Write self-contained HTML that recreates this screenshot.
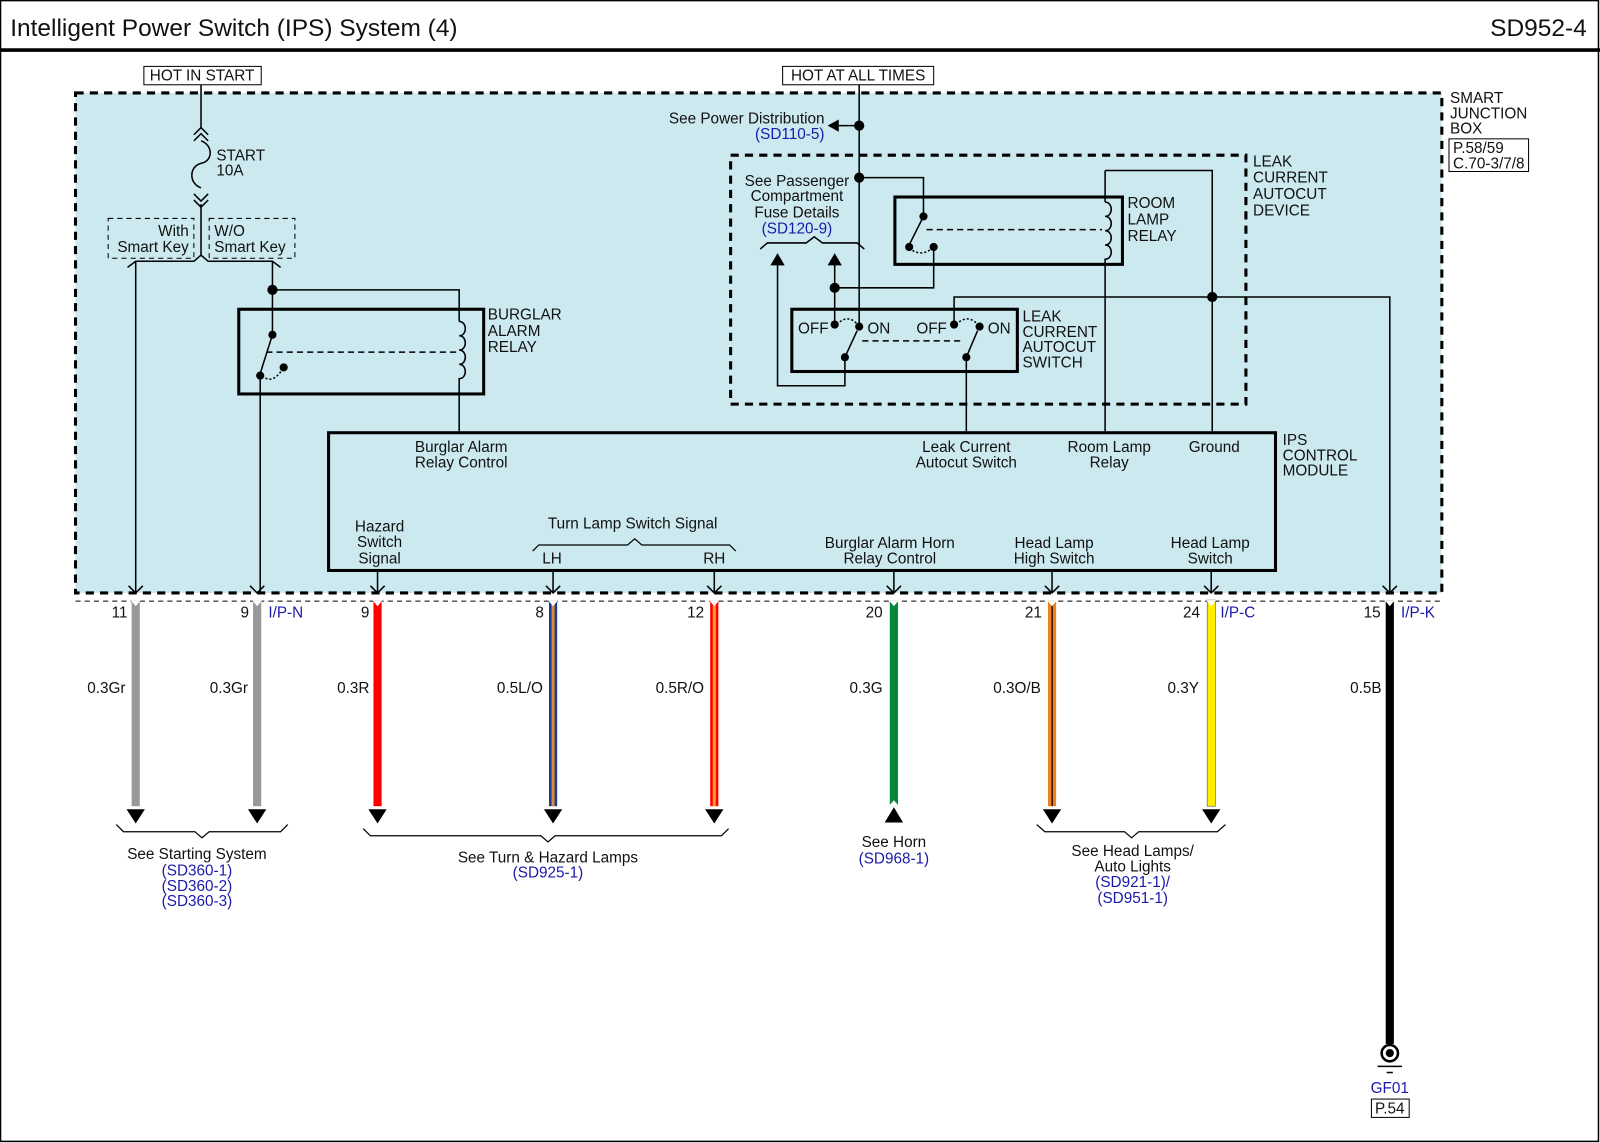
<!DOCTYPE html>
<html><head><meta charset="utf-8"><style>
html,body{margin:0;padding:0;background:#fff;}
svg{display:block;}
text{font-family:"Liberation Sans",Arial,sans-serif;font-size:15px;fill:#111;}
.b{fill:#1a1aa8;}
.m{text-anchor:middle;}
.e{text-anchor:end;}
</style></head><body>
<svg width="1600" height="1143" viewBox="0 0 1568 1120" xmlns="http://www.w3.org/2000/svg">
<rect x="0.5" y="0.5" width="1566" height="1118" fill="#fff" stroke="#000" stroke-width="1.5"/>
<line x1="0" y1="49" x2="1568" y2="49" stroke="#000" stroke-width="3.5"/>
<text x="10" y="35" style="font-size:24px">Intelligent Power Switch (IPS) System (4)</text>
<text x="1555" y="35" class="e" style="font-size:24px">SD952-4</text>

<rect x="74" y="91" width="1339" height="490" fill="#cce9f0" stroke="#000" stroke-width="3" stroke-dasharray="8,6"/>
<line x1="74" y1="589" x2="1413" y2="589" stroke="#000" stroke-width="1" stroke-dasharray="5,4"/>
<text x="1421" y="101">SMART</text><text x="1421" y="116">JUNCTION</text><text x="1421" y="131">BOX</text>
<rect x="1420" y="136" width="78" height="32" fill="#fff" stroke="#000"/>
<text x="1424" y="150">P.58/59</text><text x="1424" y="165">C.70-3/7/8</text>

<g fill="none" stroke="#000" stroke-width="1.5">
<path d="M197 83V125M197 200V250"/>
<path d="M190 132l7-7 7 7M190 138l7-7 7 7M190 190l7 7 7-7M190 196l7 7 7-7"/>
<path d="M197 138c12 4 12 20 0 22c-12 3-12 20 0 24"/>
<path d="M125 262l8-6h57l7-6 7 6h63l8 6"/>
<path d="M133 256V580M267 256V324M267 284H450V315M255 368V580"/>
<path d="M267 328L255 366"/>
<path d="M450 315c8 0 8 14 0 14c8 0 8 14 0 14c8 0 8 14 0 14c8 0 8 14 0 14V424"/>
<path d="M261 345H447" stroke-dasharray="6,4"/>
<path d="M257 368q10 10 21 -8" stroke-dasharray="2,2"/>
<path d="M842 83V318M842 123H822M842 174H905V210"/>
<path d="M905 212L891 240M915 242V282H818M818 258V316M762 258V378H828V352"/>
<path d="M828 350L840 324M947 350L958 324"/>
<path d="M935 318V291H1362V580M947 350V424"/>
<path d="M1083 167H1188V424M1083 167V198M1083 198c8 0 8 14 0 14c8 0 8 14 0 14c8 0 8 14 0 14c8 0 8 14 0 14V424"/>
<path d="M908 225H1080M845 334H942" stroke-dasharray="6,4"/>
<path d="M891 243q12 10 24 -1M820 318q12 -12 22 2M937 318q12 -12 23 2" stroke-dasharray="2,2"/>
<path d="M745 244l7-6h38l8-6 8 6h34l7 6"/>
</g>
<rect x="141" y="65" width="115" height="18" fill="#fff" stroke="#000"/>
<text x="198" y="79" class="m">HOT IN START</text>
<rect x="767" y="65" width="148" height="18" fill="#fff" stroke="#000"/>
<text x="841" y="79" class="m">HOT AT ALL TIMES</text>
<text x="212" y="157">START</text><text x="212" y="172">10A</text>
<rect x="106" y="214" width="84" height="39" fill="none" stroke="#000" stroke-dasharray="5,4"/>
<rect x="205" y="214" width="84" height="39" fill="none" stroke="#000" stroke-dasharray="5,4"/>
<text x="185" y="231" class="e">With</text><text x="185" y="247" class="e">Smart Key</text>
<text x="210" y="231">W/O</text><text x="210" y="247">Smart Key</text>

<rect x="234" y="303" width="240" height="83" fill="none" stroke="#000" stroke-width="3"/>
<text x="478" y="313">BURGLAR</text><text x="478" y="329">ALARM</text><text x="478" y="345">RELAY</text>

<text x="808" y="121" class="e">See Power Distribution</text>
<text x="808" y="136" class="e b">(SD110-5)</text>
<polygon points="811,123 822,117 822,129" fill="#000"/>

<rect x="716" y="152" width="505" height="244" fill="none" stroke="#000" stroke-width="3" stroke-dasharray="8,6"/>
<text x="1228" y="163">LEAK</text><text x="1228" y="179">CURRENT</text><text x="1228" y="195">AUTOCUT</text><text x="1228" y="211">DEVICE</text>
<text x="781" y="182" class="m">See Passenger</text><text x="781" y="197" class="m">Compartment</text><text x="781" y="213" class="m">Fuse Details</text><text x="781" y="229" class="m b">(SD120-9)</text>
<polygon points="762,248 755,260 769,260" fill="#000"/>
<polygon points="818,248 811,260 825,260" fill="#000"/>

<rect x="877" y="193" width="223" height="66" fill="none" stroke="#000" stroke-width="3"/>
<text x="1105" y="204">ROOM</text><text x="1105" y="220">LAMP</text><text x="1105" y="236">RELAY</text>
<rect x="776" y="303" width="221" height="61" fill="none" stroke="#000" stroke-width="3"/>
<text x="782" y="327">OFF</text><text x="850" y="327">ON</text><text x="898" y="327">OFF</text><text x="968" y="327">ON</text>
<text x="1002" y="315">LEAK</text><text x="1002" y="330">CURRENT</text><text x="1002" y="345">AUTOCUT</text><text x="1002" y="360">SWITCH</text>

<g fill="#000">
<circle cx="267" cy="284" r="5"/><circle cx="267" cy="328" r="4"/><circle cx="255" cy="368" r="4"/><circle cx="278" cy="360" r="4"/>
<circle cx="842" cy="123" r="5"/><circle cx="842" cy="174" r="5"/><circle cx="818" cy="282" r="5"/><circle cx="1188" cy="291" r="5"/>
<circle cx="905" cy="212" r="4"/><circle cx="891" cy="242" r="4"/><circle cx="915" cy="242" r="4"/>
<circle cx="818" cy="318" r="4"/><circle cx="842" cy="320" r="4"/><circle cx="828" cy="350" r="4"/>
<circle cx="935" cy="318" r="4"/><circle cx="960" cy="320" r="4"/><circle cx="947" cy="350" r="4"/>
</g>

<rect x="322" y="424" width="928" height="135" fill="none" stroke="#000" stroke-width="3"/>
<text x="1257" y="436">IPS</text><text x="1257" y="451">CONTROL</text><text x="1257" y="466">MODULE</text>
<text x="452" y="443" class="m">Burglar Alarm</text><text x="452" y="458" class="m">Relay Control</text>
<text x="947" y="443" class="m">Leak Current</text><text x="947" y="458" class="m">Autocut Switch</text>
<text x="1087" y="443" class="m">Room Lamp</text><text x="1087" y="458" class="m">Relay</text>
<text x="1190" y="443" class="m">Ground</text>
<text x="372" y="521" class="m">Hazard</text><text x="372" y="536" class="m">Switch</text><text x="372" y="552" class="m">Signal</text>
<text x="620" y="518" class="m">Turn Lamp Switch Signal</text>
<path d="M522 540l6-6h87l7-6 7 6h86l6 6" fill="none" stroke="#000" stroke-width="1.2"/>
<text x="541" y="552" class="m">LH</text><text x="700" y="552" class="m">RH</text>
<text x="872" y="537" class="m">Burglar Alarm Horn</text><text x="872" y="552" class="m">Relay Control</text>
<text x="1033" y="537" class="m">Head Lamp</text><text x="1033" y="552" class="m">High Switch</text>
<text x="1186" y="537" class="m">Head Lamp</text><text x="1186" y="552" class="m">Switch</text>

<g fill="none" stroke="#000" stroke-width="1.5">
<path d="M370 559V580M542 559V580M700 559V580M876 559V580M1031 559V580M1187 559V580"/>
<path d="M126 574l7 7 7-7M245 574l7 7 7-7M363 574l7 7 7-7M535 574l7 7 7-7M693 574l7 7 7-7M869 574l7 7 7-7M1024 574l7 7 7-7M1180 574l7 7 7-7M1355 574l7 7 7-7"/>
</g>

<g>
<rect x="129" y="588" width="8" height="202" fill="#999"/>
<rect x="248" y="588" width="8" height="202" fill="#999"/>
<rect x="366" y="588" width="8" height="202" fill="#f00"/>
<rect x="538" y="588" width="8" height="202" fill="#1a3a8c"/><rect x="540.5" y="588" width="3" height="202" fill="#d98a3a"/>
<rect x="696" y="588" width="8" height="202" fill="#f00"/><rect x="698.5" y="588" width="3" height="202" fill="#ff9a2a"/>
<rect x="872" y="588" width="8" height="202" fill="#00873a"/>
<rect x="1027" y="588" width="8" height="202" fill="#f08020"/><rect x="1030.5" y="588" width="1.2" height="202" fill="#000"/>
<rect x="1183" y="588" width="8" height="202" fill="#ffee00" stroke="#333" stroke-width="0.5"/>
<rect x="1358" y="588" width="8" height="435" fill="#000"/>
</g>
<g fill="#fff"><path d="M128 588l5 6 5-6zM247 588l5 6 5-6zM365 588l5 6 5-6zM537 588l5 6 5-6zM695 588l5 6 5-6zM871 588l5 6 5-6zM1026 588l5 6 5-6zM1182 588l5 6 5-6zM1357 588l5 6 5-6z"/>
<path d="M871 790l5-6 5 6z"/></g>
<g fill="#000">
<polygon points="124,793 142,793 133,807"/><polygon points="243,793 261,793 252,807"/>
<polygon points="361,793 379,793 370,807"/><polygon points="533,793 551,793 542,807"/>
<polygon points="691,793 709,793 700,807"/><polygon points="867,806 885,806 876,791"/>
<polygon points="1022,793 1040,793 1031,807"/><polygon points="1178,793 1196,793 1187,807"/>
</g>

<text x="125" y="605" class="e">11</text><text x="244" y="605" class="e">9</text><text x="263" y="605" class="b">I/P-N</text>
<text x="362" y="605" class="e">9</text><text x="533" y="605" class="e">8</text><text x="690" y="605" class="e">12</text>
<text x="865" y="605" class="e">20</text><text x="1021" y="605" class="e">21</text><text x="1176" y="605" class="e">24</text><text x="1196" y="605" class="b">I/P-C</text>
<text x="1353" y="605" class="e">15</text><text x="1373" y="605" class="b">I/P-K</text>

<text x="123" y="679" class="e">0.3Gr</text><text x="243" y="679" class="e">0.3Gr</text><text x="362" y="679" class="e">0.3R</text>
<text x="532" y="679" class="e">0.5L/O</text><text x="690" y="679" class="e">0.5R/O</text><text x="865" y="679" class="e">0.3G</text>
<text x="1020" y="679" class="e">0.3O/B</text><text x="1175" y="679" class="e">0.3Y</text><text x="1354" y="679" class="e">0.5B</text>

<g fill="none" stroke="#000" stroke-width="1.2">
<path d="M114 808l7 7h70l7 6 7-6h70l7-7"/>
<path d="M356 812l7 7h167l7 6 7-6h163l7-7"/>
<path d="M1016 808l8 7h78l7 6 7-6h77l8-7"/>
</g>
<text x="193" y="842" class="m">See Starting System</text>
<text x="193" y="858" class="m b">(SD360-1)</text><text x="193" y="873" class="m b">(SD360-2)</text><text x="193" y="888" class="m b">(SD360-3)</text>
<text x="537" y="845" class="m">See Turn &amp; Hazard Lamps</text><text x="537" y="860" class="m b">(SD925-1)</text>
<text x="876" y="830" class="m">See Horn</text><text x="876" y="846" class="m b">(SD968-1)</text>
<text x="1110" y="839" class="m">See Head Lamps/</text><text x="1110" y="854" class="m">Auto Lights</text>
<text x="1110" y="869" class="m b">(SD921-1)/</text><text x="1110" y="885" class="m b">(SD951-1)</text>

<circle cx="1362" cy="1032" r="8" fill="#fff" stroke="#000" stroke-width="2.5"/>
<circle cx="1362" cy="1032" r="4" fill="#000"/>
<line x1="1350" y1="1045" x2="1374" y2="1045" stroke="#000" stroke-width="1.5"/>
<line x1="1359" y1="1051" x2="1365" y2="1051" stroke="#000" stroke-width="1.5"/>
<text x="1362" y="1071" class="m b">GF01</text>
<rect x="1344" y="1077" width="37" height="18" fill="#fff" stroke="#000"/>
<text x="1362" y="1091" class="m">P.54</text>
</svg>
</body></html>
